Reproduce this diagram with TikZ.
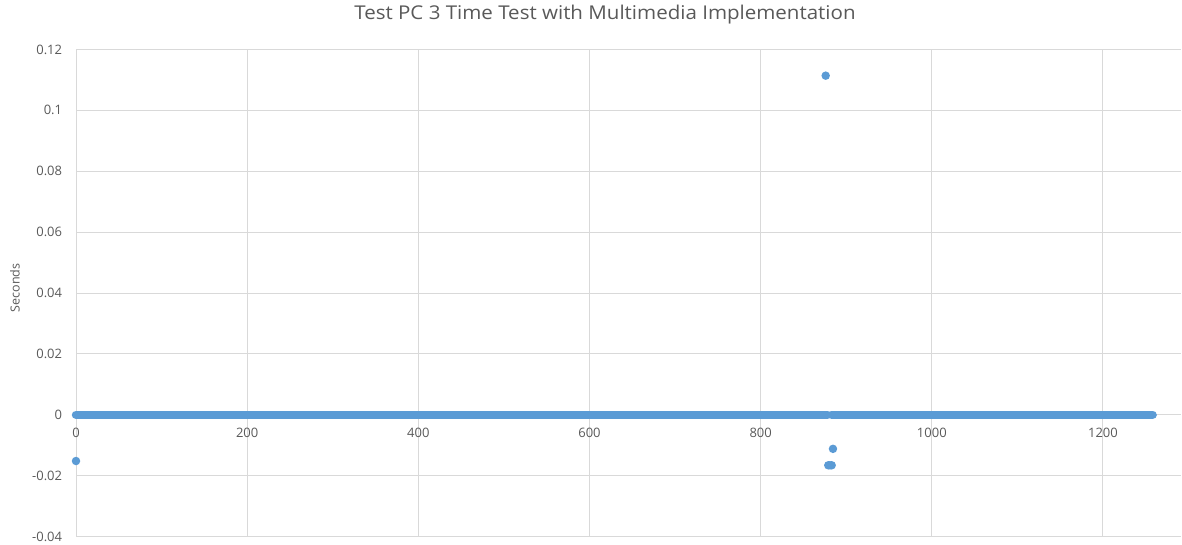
\documentclass[tikz,border=0pt]{standalone}
\usepackage{fontspec}
\setmainfont{Open Sans}
\definecolor{txtgray}{HTML}{595959}
\definecolor{gridgray}{HTML}{D9D9D9}
\definecolor{series}{HTML}{5B9BD5}
\tikzset{
  gridline/.style={draw=gridgray, line width=1pt},
  ticklab/.style={text=txtgray, font=\fontsize{13}{13}\selectfont, inner sep=0pt},
  datapt/.style={circle, fill=series, inner sep=0pt, minimum size=8.5pt},
  zeroline/.style={draw=series, line width=8.5pt, line cap=round},
}
\begin{document}
\begin{tikzpicture}[x=1pt, y=1pt]
\useasboundingbox (0,0) rectangle (1182,-544);
% chart title
\node[text=txtgray, font=\fontsize{19}{19}\selectfont, inner sep=0pt, xscale=1.08] (title) at (605,-15) {Test PC 3 Time Test with Multimedia Implementation};
% y-axis title
\node[text=txtgray, font=\fontsize{12.5}{12.5}\selectfont, inner sep=0pt, rotate=90] (ytitle) at (15,-288) {Seconds};
\begin{scope}[shift={(76,-414.75)}, x=0.8558pt, y=3043.75pt]
  % horizontal gridlines and y tick labels
  \foreach \v/\lab [count=\i] in {0.12/0.12, 0.1/0.1, 0.08/0.08, 0.06/0.06, 0.04/0.04, 0.02/0.02, 0/0, -0.02/-0.02, -0.04/-0.04}{
    \coordinate (hl\i) at (0,\v);
    \coordinate (hr\i) at (1291,\v);
    \draw[gridline] (hl\i) -- (hr\i);
    \node[ticklab, anchor=east] (ylab\i) at (-16,\v) {\lab};
  }
  % vertical gridlines and x tick labels
  \foreach \u in {0,200,...,1200}{
    \coordinate (vt\u) at (\u,0.12);
    \coordinate (vb\u) at (\u,-0.04);
    \draw[gridline] (vt\u) -- (vb\u);
    \node[ticklab] (xlab\u) at (\u,-0.0060) {\u};
  }
  % data series: run of zero values
  \coordinate (za) at (0,0);
  \coordinate (zb) at (878,0);
  \coordinate (zc) at (883,0);
  \coordinate (zd) at (1258,0);
  \draw[zeroline] (za) -- (zb);
  \draw[zeroline] (zc) -- (zd);
  % data series: isolated values
  \node[datapt] (p0) at (0,-0.0152) {};
  \node[datapt] (p1) at (876,0.1114) {};
  \node[datapt] (p2) at (879,-0.0166) {};
  \node[datapt] (p3) at (881,-0.0166) {};
  \node[datapt] (p4) at (883,-0.0166) {};
  \node[datapt] (p5) at (884.5,-0.0112) {};
\end{scope}
\end{tikzpicture}
\end{document}
